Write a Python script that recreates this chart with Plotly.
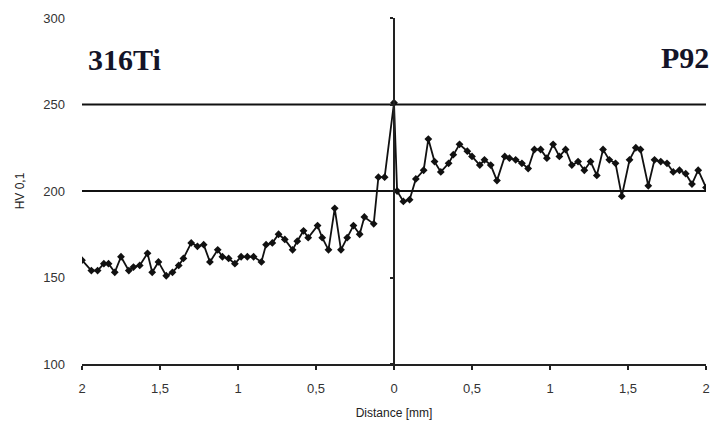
import plotly.graph_objects as go

# Microhardness traverse across the 316Ti / P92 weld interface.
# Negative distances lie on the 316Ti side, positive ones on the P92 side.
dist_316ti = [-2.00, -1.94, -1.90, -1.86, -1.83, -1.79, -1.75, -1.70, -1.67, -1.63,
              -1.58, -1.55, -1.51, -1.46, -1.42, -1.38, -1.35, -1.30, -1.26, -1.22,
              -1.18, -1.13, -1.10, -1.06, -1.02, -0.98, -0.94, -0.90, -0.85, -0.82,
              -0.78, -0.74, -0.70, -0.65, -0.62, -0.58, -0.55, -0.49, -0.46, -0.42,
              -0.38, -0.34, -0.30, -0.26, -0.22, -0.19, -0.13, -0.10, -0.06, 0.00]
hv_316ti = [160, 154, 154, 158, 158, 153, 162, 154, 156, 157,
            164, 153, 159, 151, 153, 157, 161, 170, 168, 169,
            159, 166, 162, 161, 158, 162, 162, 162, 159, 169,
            170, 175, 172, 166, 171, 177, 173, 180, 173, 166,
            190, 166, 173, 180, 175, 185, 181, 208, 208, 251]

dist_p92 = [0.02, 0.06, 0.10, 0.14, 0.19, 0.22, 0.26, 0.30, 0.35, 0.38,
            0.42, 0.47, 0.50, 0.55, 0.58, 0.62, 0.66, 0.71, 0.74, 0.78,
            0.82, 0.86, 0.90, 0.94, 0.98, 1.02, 1.06, 1.10, 1.14, 1.18,
            1.22, 1.26, 1.30, 1.34, 1.38, 1.42, 1.46, 1.51, 1.55, 1.58,
            1.63, 1.67, 1.71, 1.75, 1.79, 1.83, 1.87, 1.91, 1.95, 2.00]
hv_p92 = [200, 194, 195, 207, 212, 230, 217, 211, 216, 221,
          227, 223, 220, 215, 218, 215, 206, 220, 219, 218,
          216, 213, 224, 224, 219, 227, 220, 224, 215, 217,
          212, 217, 209, 224, 218, 216, 197, 218, 225, 224,
          203, 218, 217, 216, 211, 212, 210, 204, 212, 202]

distance = dist_316ti + dist_p92
hardness = hv_316ti + hv_p92

x_tickvals = [-2, -1.5, -1, -0.5, 0, 0.5, 1, 1.5, 2]
x_ticktext = ["2", "1,5", "1", "0,5", "0", "0,5", "1", "1,5", "2"]
y_tickvals = [100, 150, 200, 250, 300]
ref_levels = [200, 250]

axis_font = dict(family="Liberation Sans, Arial, sans-serif", size=13, color="#333333")
title_font = dict(family="Liberation Sans, Arial, sans-serif", size=12, color="#222222")

fig = go.Figure()

fig.add_trace(go.Scatter(
    x=distance, y=hardness, mode="lines+markers",
    line=dict(color="#111111", width=1.8),
    marker=dict(symbol="diamond", size=6, color="#111111"),
    showlegend=False, hoverinfo="x+y",
))

# Horizontal reference levels across the whole plot width
for lvl in ref_levels:
    fig.add_shape(type="line", xref="paper", x0=0, x1=1, yref="y", y0=lvl, y1=lvl,
                  line=dict(color="#111111", width=2), layer="below")

fig.update_layout(
    width=713, height=425,
    margin=dict(l=82, r=7, t=18, b=61, autoexpand=False),
    paper_bgcolor="white", plot_bgcolor="white",
    font=axis_font,
    xaxis=dict(
        range=[-2, 2], tickvals=x_tickvals, ticktext=x_ticktext,
        showgrid=False, zeroline=False,
        showline=True, linecolor="#222222", linewidth=2,
        ticks="outside", ticklen=4, tickcolor="#222222", tickwidth=1.5,
        tickfont=axis_font, ticklabelstandoff=7,
        title=dict(text="Distance [mm]", font=title_font, standoff=14),
    ),
    yaxis=dict(
        range=[100, 300], tickvals=y_tickvals,
        showgrid=False, zeroline=False, showline=False,
        ticks="", ticklabelstandoff=16,
        tickfont=axis_font,
        title=dict(text="HV 0,1", font=title_font, standoff=16),
    ),
    # Vertical axis drawn at the interface (distance 0)
    yaxis2=dict(
        range=[100, 300], tickvals=y_tickvals, overlaying="y", anchor="free",
        position=0.5, side="left", showticklabels=False,
        showline=True, linecolor="#222222", linewidth=1.5,
        ticks="outside", ticklen=3, tickcolor="#222222", tickwidth=1.5,
        showgrid=False, zeroline=False,
    ),
)

# invisible trace to attach the interface axis
fig.add_trace(go.Scatter(x=[None], y=[None], yaxis="y2", showlegend=False, hoverinfo="skip"))

label_font = dict(family="Liberation Serif, Times New Roman, serif", size=30, color="#141428")
fig.add_annotation(text="<b>316Ti</b>", xref="paper", yref="paper", x=0.006, y=0.88,
                   xanchor="left", yanchor="middle", showarrow=False, font=label_font)
fig.add_annotation(text="<b>P92</b>", xref="paper", yref="paper", x=1.008, y=0.885,
                   xanchor="right", yanchor="middle", showarrow=False, font=label_font)

fig.write_html("out.html")
